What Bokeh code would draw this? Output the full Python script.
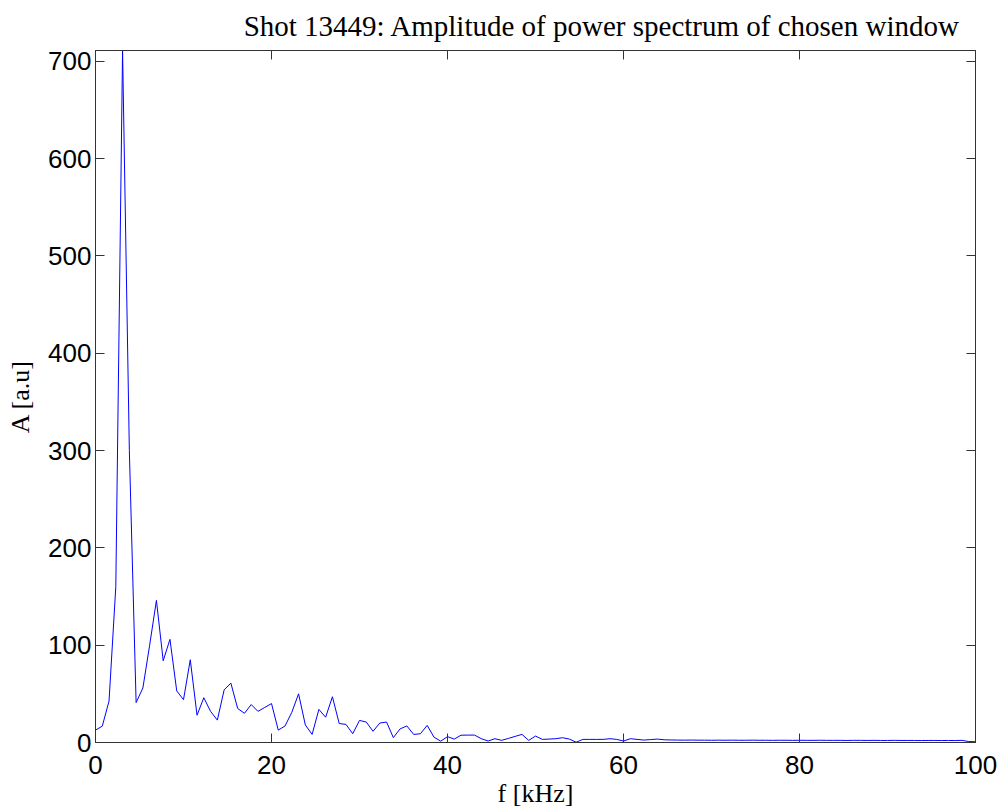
from bokeh.plotting import figure
from bokeh.models import Range1d, FixedTicker, LinearAxis, CustomJSTickFormatter
from bokeh.embed import file_html
from bokeh.resources import INLINE

# frequency step: 100 kHz / 130 bins
n_bins = 131
f_max = 100.0
freq = [k * f_max / (n_bins - 1) for k in range(n_bins)]

amplitude = [
    12.7, 16.8, 42.5, 160, 711, 300, 41, 56, 100, 146,
    84, 106, 53, 44, 85, 28, 46, 32, 23, 54,
    61, 35, 30, 39, 32, 36, 40, 12.7, 17, 31,
    50, 18, 8.3, 34, 26, 47, 19.5, 18.6, 9, 22.7,
    21, 11.5, 20, 21, 5, 14, 17, 8.3, 9, 17.6,
    5.5, 1.4, 6, 3.5, 7.5, 7.6, 7.6, 3.9, 1.5, 3.9,
    2.2, 4.2, 6.3, 8.3, 2.2, 6.6, 3.2, 3.5, 3.9, 4.9,
    3.5, 0.3, 3.2, 3.2, 3.2, 3.2, 3.9, 3.2, 1.5, 3.9,
    3.2, 2.5, 3.0, 3.5, 2.8, 2.6, 2.5, 2.4, 2.5, 2.4,
    2.4, 2.3, 2.4, 2.3, 2.4, 2.3, 2.3, 2.4, 2.3, 2.3,
    2.2, 2.3, 2.3, 2.2, 2.3, 2.2, 2.2, 2.3, 2.2, 2.2,
    2.2, 2.1, 2.2, 2.2, 2.1, 2.2, 2.1, 2.1, 2.2, 2.1,
    2.1, 2.1, 2.0, 2.1, 2.1, 2.0, 2.1, 2.0, 2.2, 1.0,
    0.8,
]

x_ticks = [0, 20, 40, 60, 80, 100]
y_ticks = [0, 100, 200, 300, 400, 500, 600, 700]

title_text = "Shot 13449: Amplitude of power spectrum of chosen window"
x_label = "f [kHz]"
y_label = "A [a.u]"

p = figure(width=1005, height=810, output_backend="svg", toolbar_location=None,
           x_range=Range1d(0, 100), y_range=Range1d(0, 711),
           min_border_left=95, min_border_right=30, min_border_top=50,
           min_border_bottom=67, title=title_text)

p.line(freq, amplitude, line_color="#0000ff", line_width=1)

p.grid.visible = False
p.outline_line_color = "#333333"
p.outline_line_width = 1
p.background_fill_color = "white"
p.border_fill_color = "white"

p.title.text_font = "Liberation Serif"
p.title.text_font_size = "29px"
p.title.text_font_style = "normal"
p.title.align = "right"
p.title.vertical_align = "top"
p.title.offset = 15
p.title.standoff = 14
p.title.text_color = "black"

tick_font = "Liberation Sans"
for ax, ticks in ((p.xaxis[0], x_ticks), (p.yaxis[0], y_ticks)):
    ax.ticker = FixedTicker(ticks=ticks)
    ax.major_tick_in = 9
    ax.major_tick_out = 0
    ax.minor_tick_line_color = None
    ax.axis_line_color = "#333333"
    ax.major_tick_line_color = "#333333"
    ax.major_label_text_font = tick_font
    ax.major_label_text_font_size = "26px"
    ax.major_label_text_color = "black"
    ax.axis_label_text_font = "Liberation Serif"
    ax.axis_label_text_font_size = "26px"
    ax.axis_label_text_font_style = "normal"
    ax.axis_label_text_color = "black"

p.xaxis[0].axis_label = x_label
p.yaxis[0].axis_label = y_label
p.xaxis[0].major_label_standoff = 13
p.yaxis[0].major_label_standoff = 4
p.xaxis[0].axis_label_standoff = 2
p.yaxis[0].axis_label_standoff = 10

# mirrored ticks on right and top (box on), without labels
blank = CustomJSTickFormatter(code="return ''")
right = LinearAxis(ticker=FixedTicker(ticks=y_ticks), formatter=blank,
                   major_tick_in=9, major_tick_out=0, minor_tick_line_color=None,
                   axis_line_color="#333333", major_tick_line_color="#333333",
                   major_label_standoff=0)
top = LinearAxis(ticker=FixedTicker(ticks=x_ticks), formatter=blank,
                 major_tick_in=9, major_tick_out=0, minor_tick_line_color=None,
                 axis_line_color="#333333", major_tick_line_color="#333333",
                 major_label_standoff=0)
p.add_layout(right, "right")
p.add_layout(top, "above")

open("out.html", "w").write(file_html(p, INLINE))
